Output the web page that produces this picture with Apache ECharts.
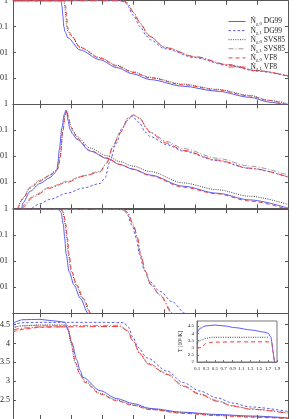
<!DOCTYPE html>
<html><head><meta charset="utf-8">
<script src="https://cdn.jsdelivr.net/npm/echarts@6/dist/echarts.min.js"></script>
<style>html,body{margin:0;padding:0;background:#fff}#c{width:299px;height:419px}</style>
</head><body><div id="c"></div>
<script>
// x is in units where the tick marks sit at 1..9
const xTicks = [1,2,3,4,5,6,7,8,9];
const xMin = 0.13, xMax = 9;
const linTicks = [2.5, 3, 3.5, 4, 4.5];
const insetXTicks = [0.1,0.3,0.5,0.7,0.9,1.1,1.3,1.5,1.7,1.9];
const insetYTicks = [2,2.5,3,3.5,4,4.5];

// ---- panel 1 ----
const p1_DG99_0 = [[0.13,1],[1.68,1],[1.71,0.6],[1.74,0.25],[1.77,0.1],[1.81,0.063],[1.90,0.037],[2.29,0.0126],[2.94,0.0052],[3.48,0.0026],[4.0,0.0015],[4.55,0.0009],[5.61,0.0005],[6.71,0.00032],[7.77,0.000186],[8.42,0.00012],[9,0.000089]];
const p1_SVS85_0 = [[0.13,1],[1.77,1],[1.80,0.6],[1.83,0.25],[1.86,0.1],[1.90,0.066],[2.0,0.045],[2.29,0.016],[2.94,0.0063],[3.48,0.0032],[4.0,0.0018],[4.55,0.0011],[5.61,0.0006],[6.71,0.00038],[7.77,0.00022],[8.42,0.00014],[9,0.000105]];
const p1_VF8_0 = [[0.13,1],[1.80,1],[1.83,0.6],[1.86,0.25],[1.89,0.1],[1.93,0.065],[2.03,0.043],[2.29,0.0155],[2.94,0.006],[3.48,0.003],[4.0,0.0017],[4.55,0.00105],[5.61,0.00057],[6.71,0.00036],[7.77,0.00021],[8.32,0.000145],[9,0.000095]];
const p1_DG99_1 = [[0.13,1],[3.55,1],[3.74,0.9],[3.81,0.7],[4.0,0.28],[4.23,0.1],[4.45,0.042],[4.55,0.031],[5.03,0.014],[6.0,0.0063],[7.03,0.0032],[8.0,0.0019],[9,0.0012]];
const p1_SVS85_1 = [[0.13,1],[3.58,1],[3.74,0.95],[3.81,0.79],[4.0,0.35],[4.23,0.13],[4.45,0.055],[4.55,0.04],[5.03,0.016],[6.0,0.007],[7.03,0.0035],[8.0,0.002],[9,0.00128]];
const p1_VF8_1 = [[0.13,1],[3.60,1],[3.76,0.95],[3.83,0.79],[4.02,0.35],[4.25,0.13],[4.47,0.053],[4.55,0.041],[5.03,0.0155],[6.0,0.0068],[7.03,0.0034],[8.0,0.002],[9,0.00125]];

// ---- panel 2 ----
const p2_DG99_0 = [[0.40,0.00008],[0.45,0.00016],[0.68,0.00045],[1.0,0.0009],[1.32,0.0015],[1.48,0.0023],[1.55,0.003],[1.58,0.006],[1.62,0.017],[1.71,0.13],[1.78,0.4],[1.84,0.6],[1.87,0.45],[1.90,0.25],[1.97,0.11],[2.06,0.07],[2.19,0.045],[2.61,0.016],[3.16,0.0083],[3.58,0.0048],[4.0,0.0032],[4.55,0.0019],[5.61,0.00071],[6.71,0.00038],[7.77,0.00021],[9,0.000102]];
const p2_SVS85_0 = [[0.29,0.0001],[0.45,0.00025],[0.68,0.00065],[1.0,0.0012],[1.32,0.0019],[1.48,0.0027],[1.58,0.0035],[1.65,0.01],[1.74,0.1],[1.81,0.4],[1.87,0.56],[1.92,0.3],[2.0,0.14],[2.1,0.085],[2.19,0.058],[2.61,0.021],[3.16,0.0105],[3.58,0.0062],[4.0,0.0042],[4.55,0.0026],[5.61,0.00095],[6.71,0.00052],[7.77,0.00029],[9,0.00014]];
const p2_VF8_0 = [[0.29,0.0001],[0.45,0.00023],[0.68,0.0006],[1.0,0.0011],[1.32,0.0018],[1.48,0.0026],[1.58,0.0033],[1.65,0.009],[1.74,0.09],[1.81,0.38],[1.87,0.55],[1.92,0.3],[2.0,0.13],[2.1,0.078],[2.19,0.05],[2.61,0.017],[3.16,0.0086],[3.58,0.0049],[4.0,0.0032],[4.55,0.0018],[5.61,0.00065],[6.71,0.00036],[7.77,0.00019],[9,0.00009]];
const p2_DG99_1 = [[0.74,0.0001],[1.0,0.00015],[1.32,0.00022],[1.87,0.00038],[2.39,0.0006],[2.94,0.0009],[3.1,0.0015],[3.25,0.006],[3.45,0.03],[3.65,0.12],[3.84,0.3],[3.97,0.34],[4.2,0.2],[4.4,0.085],[4.55,0.058],[5.1,0.028],[5.61,0.016],[6.71,0.0068],[7.77,0.0034],[9,0.0016]];
const p2_SVS85_1 = [[0.42,0.0001],[0.52,0.00015],[0.77,0.0003],[1.32,0.00065],[1.87,0.0011],[2.39,0.0018],[2.94,0.0027],[3.16,0.006],[3.35,0.025],[3.58,0.083],[3.84,0.26],[4.0,0.4],[4.23,0.29],[4.45,0.12],[4.55,0.085],[5.1,0.037],[5.61,0.02],[6.71,0.0085],[7.77,0.0042],[9,0.0019]];
const p2_VF8_1 = [[0.45,0.00009],[0.52,0.00013],[0.77,0.00027],[1.32,0.0006],[1.87,0.001],[2.39,0.0017],[2.94,0.0025],[3.16,0.0055],[3.35,0.023],[3.58,0.079],[3.84,0.25],[4.0,0.39],[4.23,0.28],[4.45,0.115],[4.55,0.079],[5.1,0.032],[5.61,0.017],[6.71,0.0072],[7.77,0.0035],[9,0.0016]];

// ---- panel 3 ----
const p3_DG99_0 = [[0.13,1],[1.52,1],[1.62,0.95],[1.68,0.75],[1.75,0.27],[1.80,0.075],[1.84,0.02],[1.94,0.004],[2.1,0.0012],[2.3,0.00038],[2.55,0.0001],[2.65,0.00006]];
const p3_SVS85_0 = [[0.13,1],[1.58,1],[1.68,0.95],[1.74,0.75],[1.81,0.27],[1.87,0.075],[1.91,0.02],[2.01,0.004],[2.17,0.0012],[2.37,0.00038],[2.62,0.0001],[2.72,0.00006]];
const p3_VF8_0 = [[0.13,1],[1.60,1],[1.70,0.95],[1.76,0.75],[1.83,0.27],[1.89,0.075],[1.93,0.02],[2.03,0.004],[2.19,0.0012],[2.4,0.00038],[2.65,0.0001],[2.75,0.00006]];
const p3_DG99_1 = [[0.13,1],[3.55,1],[3.68,0.95],[3.79,0.72],[3.98,0.23],[4.11,0.075],[4.21,0.018],[4.37,0.0045],[4.55,0.0016],[4.87,0.0007],[5.26,0.00028],[5.68,0.0001],[5.8,0.00008]];
const p3_SVS85_1 = [[0.13,1],[3.58,1],[3.70,0.95],[3.81,0.75],[4.0,0.25],[4.13,0.08],[4.23,0.018],[4.39,0.004],[4.55,0.0013],[4.87,0.00052],[5.3,0.0001],[5.4,0.00007]];
const p3_VF8_1 = [[0.13,1],[3.60,1],[3.72,0.95],[3.83,0.75],[4.02,0.25],[4.15,0.08],[4.25,0.018],[4.41,0.004],[4.57,0.0013],[4.87,0.0005],[5.26,0.0001],[5.35,0.00007]];

// ---- panel 4 ----
const p4_DG99_0 = [[0.13,4.54],[0.45,4.63],[1.0,4.64],[1.32,4.61],[1.55,4.59],[1.81,4.56],[1.90,4.36],[2.03,4.01],[2.19,3.56],[2.29,3.29],[2.39,3.1],[2.94,2.75],[3.48,2.54],[4.0,2.41],[4.55,2.28],[5.61,2.18],[6.71,2.12],[7.77,2.08],[9,2.03]];
const p4_SVS85_0 = [[0.13,4.42],[0.45,4.47],[1.0,4.49],[1.84,4.49],[1.90,4.4],[1.99,4.05],[2.13,3.5],[2.29,3.2],[2.45,3.0],[2.94,2.68],[3.48,2.5],[4.0,2.37],[4.55,2.26],[5.61,2.16],[6.71,2.1],[7.77,2.06],[9,2.02]];
const p4_VF8_0 = [[0.13,4.31],[0.5,4.38],[1.0,4.43],[1.5,4.44],[1.86,4.44],[1.92,4.35],[2.01,4.05],[2.14,3.5],[2.29,3.17],[2.45,2.97],[2.94,2.66],[3.48,2.48],[4.0,2.36],[4.55,2.25],[5.61,2.15],[6.71,2.09],[7.77,2.05],[9,2.01]];
const p4_DG99_1 = [[0.13,4.5],[0.45,4.55],[1.0,4.56],[2.0,4.56],[3.0,4.56],[3.71,4.55],[3.84,4.44],[4.0,4.17],[4.16,3.9],[4.45,3.62],[5.1,3.27],[5.61,2.97],[6.16,2.74],[6.71,2.56],[7.23,2.42],[7.77,2.32],[9,2.2]];
const p4_SVS85_1 = [[0.13,4.43],[0.5,4.47],[1.0,4.48],[3.58,4.48],[3.81,4.36],[4.0,4.09],[4.23,3.74],[4.48,3.48],[5.1,3.21],[5.61,2.89],[6.16,2.67],[6.71,2.49],[7.23,2.35],[7.77,2.27],[9,2.16]];
const p4_VF8_1 = [[0.13,4.36],[0.5,4.41],[1.0,4.44],[3.58,4.45],[3.81,4.34],[4.0,4.07],[4.23,3.72],[4.48,3.46],[5.1,3.18],[5.61,2.87],[6.16,2.65],[6.71,2.47],[7.23,2.34],[7.77,2.26],[9,2.15]];

// ---- inset: T [10^6 K] ----
const inset_DG99 = [[0.1,4.0],[0.17,4.34],[0.28,4.5],[0.5,4.57],[0.73,4.5],[0.95,4.39],[1.33,4.22],[1.63,4.07],[1.7,4.0],[1.76,3.76],[1.79,3.3],[1.81,2.72],[1.84,2.1],[1.85,1.9]];
const inset_SVS85 = [[0.1,3.3],[0.2,3.53],[0.3,3.65],[0.45,3.72],[1.0,3.72],[1.72,3.72]];
const inset_VF8 = [[0.1,2.95],[0.2,3.0],[0.3,3.3],[0.45,3.38],[1.0,3.4],[1.72,3.4],[1.78,3.3],[1.81,2.7],[1.84,2.1]];

const styles = {
  DG99_0:  {color:'#5c5cf5', type:'solid', width:1},
  DG99_1:  {color:'#5c5cf5', type:[2.5,2], width:1},
  SVS85_0: {color:'#444444', type:[1,1.3], width:1},
  SVS85_1: {color:'#9a9a9a', type:[5,2,1,2], width:1},
  VF8_0:   {color:'#f23c3c', type:[4,3], width:1},
  VF8_1:   {color:'#f23c3c', type:[6,2,1,2], width:1}
};
const legendNames = {
  DG99_0:'{n|Ṅ}{s|χ,0} DG99', DG99_1:'{n|Ṅ}{s|χ,1} DG99',
  SVS85_0:'{n|Ṅ}{s|χ,0} SVS85', SVS85_1:'{n|Ṅ}{s|χ,1} SVS85',
  VF8_0:'{n|Ṅ}{s|χ,0} VF8', VF8_1:'{n|Ṅ}{s|χ,1} VF8'
};
const order = ['DG99_0','DG99_1','SVS85_0','SVS85_1','VF8_0','VF8_1'];
const panels = [
  {DG99_0:p1_DG99_0,DG99_1:p1_DG99_1,SVS85_0:p1_SVS85_0,SVS85_1:p1_SVS85_1,VF8_0:p1_VF8_0,VF8_1:p1_VF8_1},
  {DG99_0:p2_DG99_0,DG99_1:p2_DG99_1,SVS85_0:p2_SVS85_0,SVS85_1:p2_SVS85_1,VF8_0:p2_VF8_0,VF8_1:p2_VF8_1},
  {DG99_0:p3_DG99_0,DG99_1:p3_DG99_1,SVS85_0:p3_SVS85_0,SVS85_1:p3_SVS85_1,VF8_0:p3_VF8_0,VF8_1:p3_VF8_1},
  {DG99_0:p4_DG99_0,DG99_1:p4_DG99_1,SVS85_0:p4_SVS85_0,SVS85_1:p4_SVS85_1,VF8_0:p4_VF8_0,VF8_1:p4_VF8_1}
];

const FONT = 'Liberation Serif, DejaVu Serif, serif';
const AX = '#555';
const gridsPos = [
  {top:0.7, height:103.6},
  {top:104.3, height:104},
  {top:209.3, height:104},
  {top:313.3, height:105.7}
];
const grid = gridsPos.map(g => ({left:13, width:275, top:g.top, height:g.height, containLabel:false, outerBoundsMode:'none'}));
grid.push({left:197, top:321, width:80, height:41, show:true, backgroundColor:'#fff', borderColor:'#777', borderWidth:1, z:5, containLabel:false, outerBoundsMode:'none'});

const xAxis = [], yAxis = [];
const logFmt = v => { const e = Math.round(Math.log10(v)); return ({'0':'1','-1':'0.1','-2':'0.01','-3':'0.001'})[String(e)] || ''; };
for (let i = 0; i < 4; i++) {
  ['bottom','top'].forEach(pos => xAxis.push({
    type:'value', gridIndex:i, position:pos, min:xMin, max:xMax,
    axisLine:{show:true, lineStyle:{color:AX, width:1}},
    axisTick:{show:true, inside:true, length:4, customValues:xTicks, lineStyle:{color:AX}},
    axisLabel:{show:false}, splitLine:{show:false}
  }));
  const isLog = i < 3;
  ['left','right'].forEach(pos => {
    const ax = {
      gridIndex:i, position:pos,
      axisLine:{show:true, lineStyle:{color:AX, width:1}},
      axisTick:{show:true, inside:true, length:3, lineStyle:{color:AX}},
      splitLine:{show:false},
      axisLabel:{show: pos==='left', fontFamily:FONT, fontSize:8, color:'#222', margin: isLog ? 5 : 3,
        formatter: isLog ? logFmt : (v => String(v))}
    };
    if (isLog) {
      Object.assign(ax, {type:'log', logBase:10, min:0.0001, max:1});
      ax.axisLabel.showMinLabel = (i === 0);
    } else {
      Object.assign(ax, {type:'value', min:2, max:4.8});
      ax.axisTick.customValues = linTicks;
      ax.axisLabel.customValues = linTicks;
    }
    yAxis.push(ax);
  });
}
// inset axes
xAxis.push({type:'value', gridIndex:4, min:0.1, max:1.9, z:6,
  axisLine:{show:true, lineStyle:{color:'#777'}},
  axisTick:{show:true, inside:true, length:2, customValues:insetXTicks, lineStyle:{color:'#777'}},
  axisLabel:{show:true, customValues:insetXTicks, fontFamily:FONT, fontSize:5, color:'#222', margin:4, formatter:v=>String(v)},
  splitLine:{show:false}});
yAxis.push({type:'value', gridIndex:4, min:2, max:4.85, z:6,
  name:'T [10⁶ K]', nameLocation:'middle', nameGap:10, nameRotate:90,
  nameTextStyle:{fontFamily:FONT, fontSize:5.5, color:'#222'},
  axisLine:{show:true, lineStyle:{color:'#777'}},
  axisTick:{show:true, inside:true, length:2, customValues:insetYTicks, lineStyle:{color:'#777'}},
  axisLabel:{show:true, customValues:insetYTicks, fontFamily:FONT, fontSize:5, color:'#222', margin:3, formatter:v=>String(v)},
  splitLine:{show:false}});

const series = [];
panels.forEach((p, i) => {
  order.forEach(k => {
    series.push({
      type:'line', name:legendNames[k], xAxisIndex:2*i, yAxisIndex:2*i,
      data:p[k], showSymbol:false, symbol:'none', smooth:0.3, smoothMonotone:'x',
      lineStyle:styles[k], itemStyle:{color:styles[k].color}, clip:true, z:2
    });
  });
});
[['DG99_0',inset_DG99],['SVS85_0',inset_SVS85],['VF8_0',inset_VF8]].forEach(([k,d]) => {
  series.push({type:'line', name:'T '+k, xAxisIndex:8, yAxisIndex:8, data:d,
    showSymbol:false, symbol:'none', smooth:0.3, smoothMonotone:'x',
    lineStyle:styles[k], itemStyle:{color:styles[k].color}, clip:true, z:7});
});

const chart = echarts.init(document.getElementById('c'), null, {renderer:'canvas'});
chart.setOption({
  animation:false,
  backgroundColor:'#fff',
  grid, xAxis, yAxis, series,
  legend:{
    data: order.map(k => ({
      name: legendNames[k],
      itemStyle:{color:'rgba(0,0,0,0)', borderWidth:0, opacity:0},
      lineStyle:{color:styles[k].color, type:styles[k].type, width:1, opacity:1}
    })),
    orient:'vertical', left:223, top:12.5, itemWidth:17, itemHeight:7, itemGap:0.6,
    selectedMode:false,
    textStyle:{fontFamily:FONT, fontSize:7.5, color:'#222',
      rich:{n:{fontFamily:FONT, fontSize:7.5, color:'#222'}, s:{fontFamily:FONT, fontSize:5, color:'#222', padding:[4,0,0,0]}}},
    formatter: n => n
  }
});
</script></body></html>
